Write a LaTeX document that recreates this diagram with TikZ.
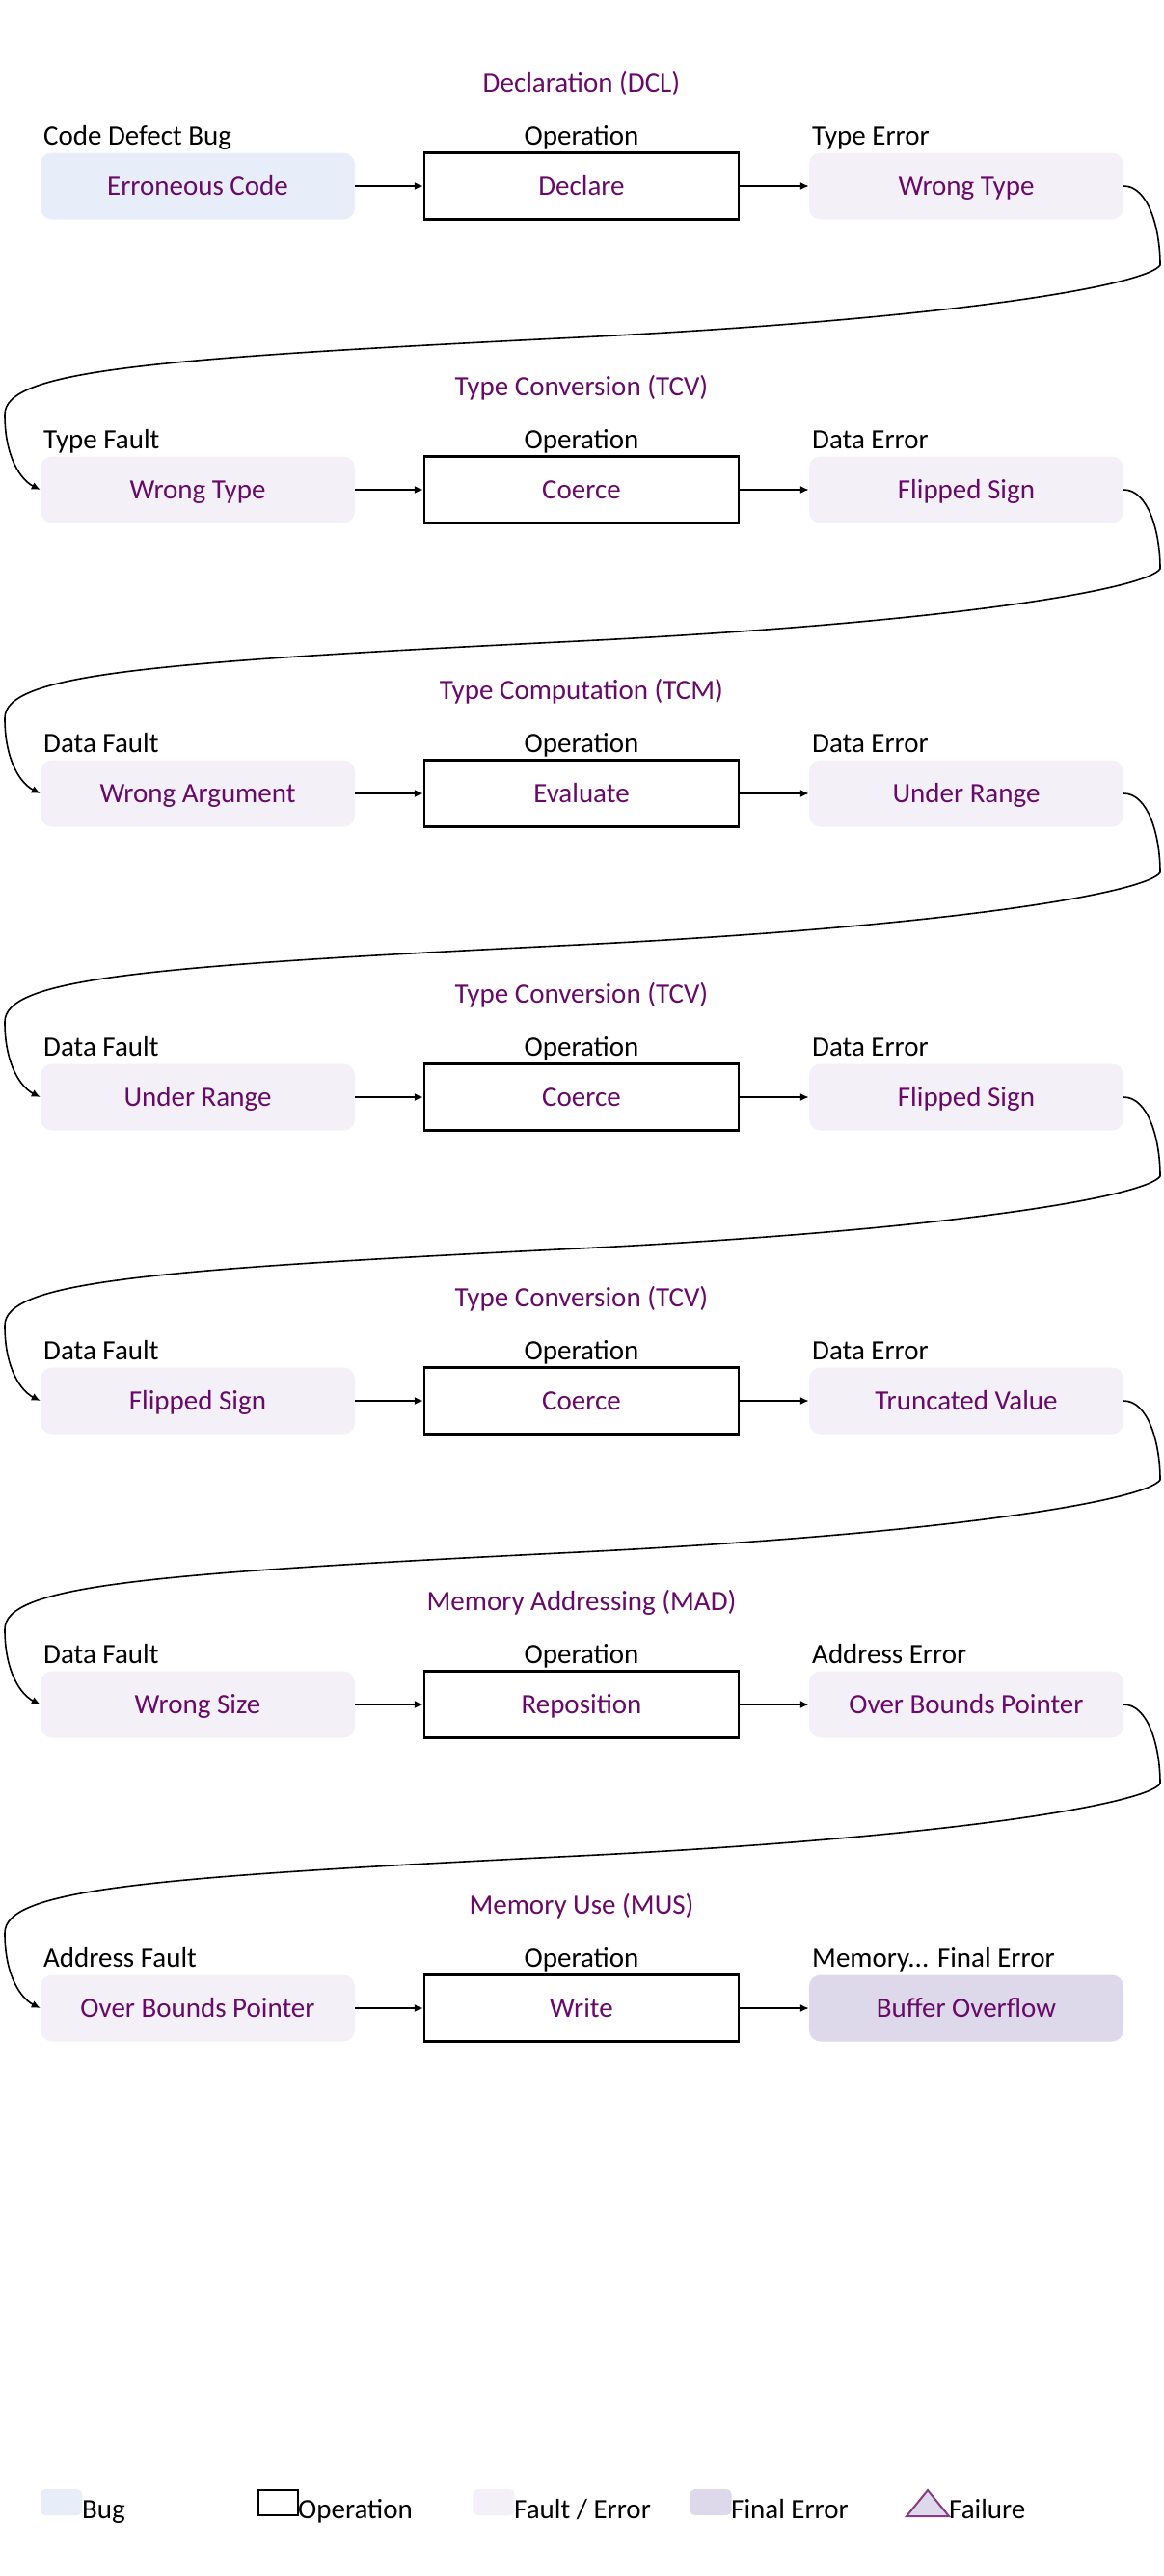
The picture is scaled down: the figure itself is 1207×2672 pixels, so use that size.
\documentclass[tikz,border=0pt]{standalone}
\usepackage{fontspec}
\setmainfont{Carlito}
\usetikzlibrary{arrows.meta}
\definecolor{bugfill}{HTML}{E7EEFA}
\definecolor{faultfill}{HTML}{F3F0F8}
\definecolor{finalfill}{HTML}{DDD9EA}
\definecolor{txtpurple}{HTML}{680A68}
\definecolor{tribord}{HTML}{8A3A7E}
\newcommand\memlbltext{Memory... Final Error}
\begin{document}
\begin{tikzpicture}[x=1pt,y=-1pt,font=\fontsize{29}{35}\selectfont,
  box/.style={minimum width=326pt,minimum height=69pt,inner sep=0pt,text height=24pt,text depth=5pt,text=txtpurple,rounded corners=12pt},
  bugbox/.style={box,fill=bugfill},
  faultbox/.style={box,fill=faultfill},
  finalbox/.style={box,fill=finalfill},
  opbox/.style={box,rounded corners=0pt,draw=black,line width=2.4pt,fill=white},
  lbl/.style={anchor=base west,inner sep=0pt,text=black},
  oplbl/.style={anchor=base,inner sep=0pt,text=black},
  ttl/.style={anchor=base,inner sep=0pt,text=txtpurple},
  flow/.style={-{Latex[length=9pt,width=8pt]},line width=1.6pt},
  swatch/.style={minimum width=43pt,minimum height=27pt,inner sep=0pt,rounded corners=5pt},
  lgtext/.style={anchor=base west,inner sep=0pt,text=black}]
\useasboundingbox (0,0) rectangle (1207,2672);
\fill[white] (0,0) rectangle (1207,2672);

\foreach \i/\ttltext/\la/\lc/\ta/\tb/\tc/\sa/\sc in {%
  1/Declaration (DCL)/Code Defect Bug/Type Error/Erroneous Code/Declare/Wrong Type/bugbox/faultbox,
  2/Type Conversion (TCV)/Type Fault/Data Error/Wrong Type/Coerce/Flipped Sign/faultbox/faultbox,
  3/Type Computation (TCM)/Data Fault/Data Error/Wrong Argument/Evaluate/Under Range/faultbox/faultbox,
  4/Type Conversion (TCV)/Data Fault/Data Error/Under Range/Coerce/Flipped Sign/faultbox/faultbox,
  5/Type Conversion (TCV)/Data Fault/Data Error/Flipped Sign/Coerce/Truncated Value/faultbox/faultbox,
  6/Memory Addressing (MAD)/Data Fault/Address Error/Wrong Size/Reposition/Over Bounds Pointer/faultbox/faultbox,
  7/Memory Use (MUS)/Address Fault/\memlbltext/Over Bounds Pointer/Write/Buffer Overflow/faultbox/finalbox}{
  \pgfmathsetmacro{\y}{193+315*(\i-1)}
  \node[ttl] (t\i) at (603,{\y-98}) {\ttltext};
  \node[\sa] (a\i) at (205,\y) {\ta};
  \node[opbox] (b\i) at (603,\y) {\tb};
  \node[\sc] (c\i) at (1002,\y) {\tc};
  \node[lbl] (la\i) at (45,{\y-43}) {\la};
  \node[oplbl] (lb\i) at (603,{\y-43}) {Operation};
  \node[lbl] (lc\i) at (842,{\y-43}) {\lc};
  \draw[flow] (a\i) -- (b\i);
  \draw[flow] (b\i) -- (c\i);
}

\foreach \i [evaluate=\i as \j using int(\i+1)] in {1,2,3,4,5,6}{
  \pgfmathsetmacro{\y}{193+315*(\i-1)}
  \draw[flow] (c\i.east) .. controls (1190,\y) and (1203,{\y+42}) .. (1203,{\y+82})
     .. controls (1190,{\y+102}) and (1000,{\y+137}) .. (600,{\y+157})
     .. controls (150,{\y+179}) and (5,{\y+192}) .. (5,{\y+237})
     .. controls (5,{\y+282}) and (22,{\y+305}) .. (a\j.west);
}

% legend
\node[swatch,fill=bugfill] (sw1) at (63.5,2595.5) {};
\node[lgtext] (lg1) at (85,2612) {Bug};
\node[swatch,rounded corners=0pt,draw=black,line width=2pt,fill=white,minimum width=41pt,minimum height=26pt] (sw2) at (288,2595.5) {};
\node[lgtext] (lg2) at (309,2612) {Operation};
\node[swatch,fill=faultfill] (sw3) at (512,2595.5) {};
\node[lgtext] (lg3) at (533,2612) {Fault / Error};
\node[swatch,fill=finalfill] (sw4) at (737,2595.5) {};
\node[lgtext] (lg4) at (758,2612) {Final Error};
\draw[fill=finalfill,draw=tribord,line width=2pt,line join=miter] (962,2583) -- (984,2610) -- (940,2610) -- cycle;
\coordinate (sw5) at (962,2597);
\node[lgtext] (lg5) at (984,2612) {Failure};
\end{tikzpicture}
\end{document}
